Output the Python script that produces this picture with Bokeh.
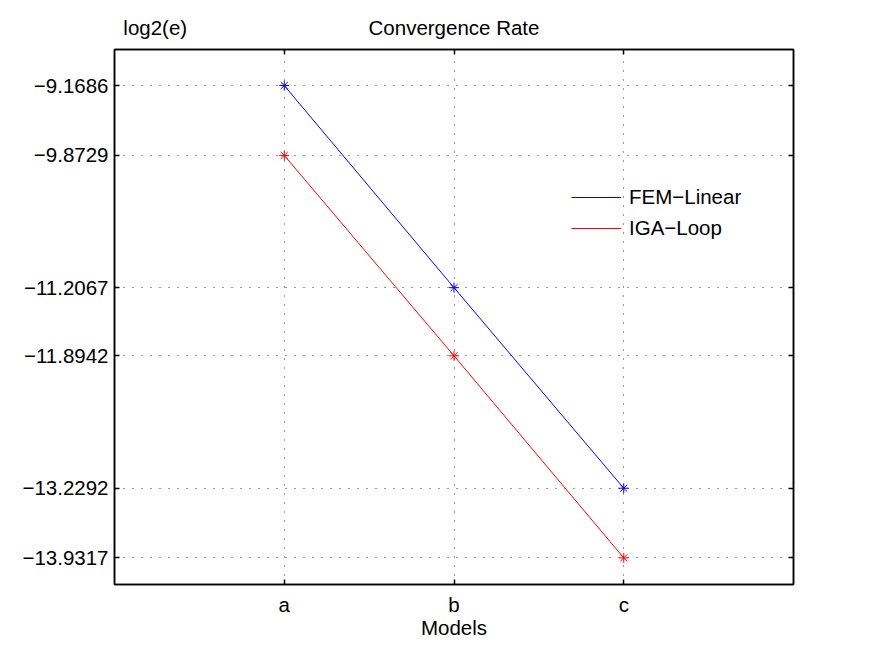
from bokeh.plotting import figure
from bokeh.models import (ColumnDataSource, FixedTicker, LinearAxis, Range1d,
                          Legend, LegendItem)
from bokeh.embed import file_html
from bokeh.resources import INLINE

# Models and log2 of the error for each method
models = ["a", "b", "c"]
model_pos = [1, 2, 3]
fem_linear = [-9.1686, -11.2067, -13.2292]
iga_loop = [-9.8729, -11.8942, -13.9317]

TITLE = "Convergence Rate"
Y_LABEL = "log2(e)"
X_LABEL = "Models"

FONT = "Liberation Sans"
FS = "20.5px"
TITLE_X = 2.0      # centre of the x range
YLABEL_X = 0.24    # y label sits just inside the top-left corner

def fmt(v):
    return f"{v:.4f}".replace("-", "\u2212")

y_ticks = sorted(fem_linear + iga_loop)

p = figure(width=875, height=659, output_backend="svg", toolbar_location=None,
           x_range=Range1d(0, 4), y_range=Range1d(-14.20, -8.805),
           min_border_left=114, min_border_right=82,
           min_border_top=49, min_border_bottom=75,
           background_fill_color="white", border_fill_color="white")
p.outline_line_color = "black"
p.outline_line_width = 1.5

src_fem = ColumnDataSource(dict(x=model_pos, y=fem_linear))
src_iga = ColumnDataSource(dict(x=model_pos, y=iga_loop))

l1 = p.line("x", "y", source=src_fem, line_color="#0000ff", line_width=1)
p.scatter("x", "y", source=src_fem, marker="asterisk", size=10,
          line_color="#0000ff", line_width=1)
l2 = p.line("x", "y", source=src_iga, line_color="#ff0000", line_width=1)
p.scatter("x", "y", source=src_iga, marker="asterisk", size=10,
          line_color="#ff0000", line_width=1)

xt = FixedTicker(ticks=model_pos)
yt = FixedTicker(ticks=y_ticks)

def style(ax):
    ax.axis_line_color = "black"
    ax.axis_line_width = 1.5
    ax.major_tick_in = 5
    ax.major_tick_out = 0
    ax.major_tick_line_color = "black"
    ax.major_tick_line_width = 1.5
    ax.minor_tick_line_color = None
    ax.major_label_text_font = FONT
    ax.major_label_text_font_size = FS
    ax.major_label_text_color = "black"
    ax.axis_label_text_font = FONT
    ax.axis_label_text_font_size = FS
    ax.axis_label_text_font_style = "normal"
    ax.axis_label_text_color = "black"

xa = p.xaxis[0]
xa.ticker = xt
xa.major_label_overrides = {k: v for k, v in zip(model_pos, models)}
xa.axis_label = X_LABEL
xa.major_label_standoff = 8
xa.axis_label_standoff = -3
style(xa)

ya = p.yaxis[0]
ya.ticker = yt
ya.major_label_overrides = {v: fmt(v) for v in y_ticks}
ya.major_label_standoff = 6
style(ya)

# Top axis: inward ticks at the models (as minor ticks) and the
# title / y label as its labels
top = LinearAxis(ticker=FixedTicker(ticks=[YLABEL_X, TITLE_X],
                                    minor_ticks=model_pos),
                 major_label_overrides={YLABEL_X: Y_LABEL, TITLE_X: TITLE})
style(top)
top.major_tick_line_color = None
top.minor_tick_line_color = "black"
top.minor_tick_line_width = 1.5
top.minor_tick_in = 5
top.minor_tick_out = 0
top.major_label_standoff = 11
p.add_layout(top, "above")

# Right axis: mirrored ticks only
right = LinearAxis(ticker=yt, major_label_overrides={v: "" for v in y_ticks})
style(right)
right.major_label_standoff = 0
p.add_layout(right, "right")

# Dotted grid
for g in (p.xgrid[0], p.ygrid[0]):
    g.grid_line_color = "#333333"
    g.grid_line_dash = "1 8"
    g.grid_line_width = 1
p.xgrid[0].ticker = xt
p.ygrid[0].ticker = yt

legend = Legend(items=[LegendItem(label="FEM\u2212Linear", renderers=[l1]),
                       LegendItem(label="IGA\u2212Loop", renderers=[l2])],
                location=(457, 344), background_fill_alpha=0,
                border_line_color=None, label_text_font=FONT,
                label_text_font_size=FS, label_text_color="black",
                glyph_width=50, spacing=7, label_standoff=8)
p.add_layout(legend, "center")

open("out.html", "w").write(file_html(p, INLINE))
